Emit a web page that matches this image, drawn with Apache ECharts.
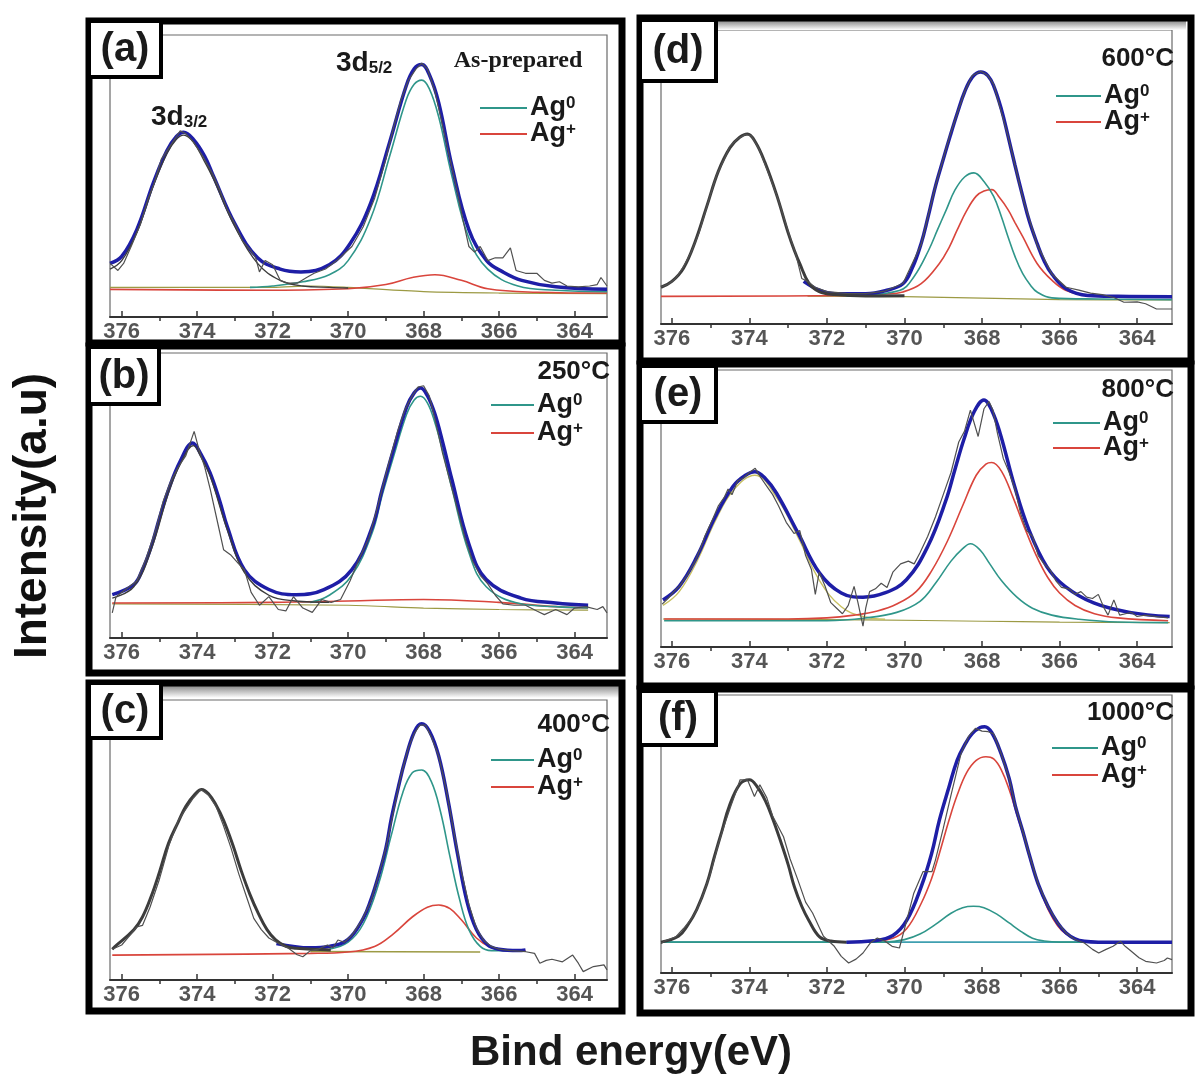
<!DOCTYPE html>
<html>
<head>
<meta charset="utf-8">
<script src="https://cdn.jsdelivr.net/npm/echarts@6/dist/echarts.min.js"></script>
<style>
html, body { margin: 0; padding: 0; background: #fff; }
#main { width: 1200px; height: 1087px; }
</style>
</head>
<body>
<div id="main"></div>
<script>
// tick labels of every energy axis
var majorTicks = [376, 374, 372, 370, 368, 366, 364];
var minorTicks = [375, 373, 371, 369, 367, 365];
var panelNames = ['(a)', '(b)', '(c)', '(d)', '(e)', '(f)'];
var panelTitles = ['As-prepared', '250°C', '400°C', '600°C', '800°C', '1000°C'];

// (a) as-prepared  [binding energy, intensity a.u.]
var rawA = [[376.31,19],[376.1,16.5],[375.95,19],[375.75,25],[375.5,33],[375.3,42],[375.15,47],[374.95,56],[374.7,61],[374.45,66],[374.3,65],[374.1,62],[373.85,57],[373.6,51],[373.4,45],[373.2,38],[373.0,33],[372.8,27],[372.6,24],[372.45,21],[372.35,16],[372.2,20],[372.0,18.5],[371.8,13],[371.6,12],[371.35,12],[371.1,14],[370.9,15.5],[370.6,17],[370.3,20],[370.1,22.5],[369.9,25],[369.6,32],[369.3,42],[369.0,56],[368.8,67],[368.6,77],[368.4,84],[368.2,88],[368.05,90],[367.9,88],[367.7,80],[367.5,68],[367.3,56],[367.1,44],[366.95,34],[366.8,25],[366.65,23],[366.5,25],[366.3,20],[366.1,21],[365.9,21],[365.7,24.5],[365.55,16.5],[365.3,15.5],[365.0,15.5],[364.8,13],[364.6,12],[364.4,12.5],[364.2,11],[363.9,10.7],[363.6,11],[363.4,11.5],[363.3,14],[363.14,11]];
var envA = [[376.31,19],[376.0,21.5],[375.6,31],[375.15,48],[374.8,59],[374.55,64],[374.36,65.5],[374.1,63],[373.8,57],[373.57,50],[373.0,33],[372.4,21],[371.8,17],[371.25,16],[370.5,18.5],[369.95,26],[369.4,40.5],[368.9,62],[368.46,82],[368.25,88],[368.05,89.5],[367.85,86],[367.6,76],[367.25,53.6],[366.8,31],[366.33,20],[365.9,16],[365.4,13],[364.5,10.7],[363.14,9.8]];
var d32A = [[376.31,17],[376.0,20],[375.6,30],[375.15,47],[374.8,58],[374.55,63],[374.36,64.5],[374.1,62],[373.8,55],[373.57,49],[373.0,32],[372.4,19],[371.8,13],[371.2,11],[370.5,10.5],[370.0,10.3]];
var ag0A = [[372.6,10.5],[372.0,11],[371.2,12.5],[370.5,15],[370.0,20],[369.4,35],[368.9,57],[368.46,77],[368.25,82.5],[368.05,84],[367.85,81],[367.6,71],[367.25,50],[366.8,28],[366.3,17],[365.5,11],[364.5,9.5],[363.14,9]];
var agpA = [[376.31,9.8],[372.0,9.5],[370.0,10],[369.0,11.5],[368.3,14],[367.7,15],[367.0,13],[366.3,10],[365.0,8.8],[363.14,8.5]];
var baseA = [[376.31,10.5],[372.0,10.5],[371.0,11],[370.0,10.5],[368.0,9],[366.0,8.5],[363.14,8.3]];

// (b) 250 C
var rawB = [[376.25,8.8],[376.15,14.5],[375.9,17],[375.6,20],[375.35,28],[375.1,38],[374.9,48],[374.7,55],[374.5,60],[374.3,64],[374.08,72.5],[373.95,66],[373.8,60],[373.65,52],[373.45,40],[373.3,31],[373.1,29],[372.9,26],[372.75,24],[372.57,16],[372.35,11.5],[372.1,14.5],[371.85,10],[371.65,9.5],[371.45,14.5],[371.2,10.5],[370.95,9],[370.7,13.5],[370.45,12.5],[370.2,13.5],[369.95,20],[369.7,28],[369.45,35],[369.2,47],[368.95,60],[368.7,72],[368.5,80],[368.3,85],[368.15,88],[368.0,88.5],[367.85,85],[367.7,77],[367.5,65],[367.3,55],[367.1,45],[366.9,35],[366.7,27],[366.5,22],[366.3,19],[366.1,15],[365.9,12],[365.6,11.5],[365.3,11.5],[365.0,9.5],[364.8,8.2],[364.5,10],[364.2,8.2],[364.0,10.5],[363.7,11],[363.4,10],[363.25,11],[363.14,8.8]];
var envB = [[376.25,15.2],[375.68,18.7],[375.45,24],[375.22,32],[375.0,42],[374.76,52],[374.45,62],[374.12,68.4],[373.9,64.5],[373.66,58],[373.4,48],[373.2,39],[372.75,24],[372.1,17],[371.38,15.2],[370.64,17],[369.9,24],[369.36,39],[369.1,52],[368.8,66],[368.45,81],[368.25,86],[368.08,87.7],[367.9,85],[367.71,79],[367.5,69],[367.25,55.6],[366.8,33],[366.34,20.5],[365.42,14],[364.5,12.3],[363.64,11.5]];
var d32B = [[376.25,14],[375.68,18],[375.22,31],[374.76,51],[374.45,61],[374.1,67.5],[373.9,63.5],[373.66,57],[373.2,38],[372.75,23],[372.1,15],[371.4,13],[370.5,12.5]];
var ag0B = [[371.0,12.5],[370.5,15],[369.9,22],[369.36,37],[369.1,50],[368.8,63.5],[368.45,78.5],[368.25,83.5],[368.08,84.8],[367.9,82.5],[367.71,76],[367.5,66],[367.25,52.5],[366.8,30],[366.34,18],[365.42,12],[364.5,11],[363.64,10.5]];
var agpB = [[376.25,12.3],[372.0,12.5],[370.0,13],[368.0,13.5],[366.0,12.5],[364.5,11],[363.64,10.5]];
var baseB = [[376.25,12],[370.0,11.5],[368.0,10.5],[366.0,10],[363.64,9.8]];

// (c) 400 C
var rawC = [[376.25,11],[376.0,12.5],[375.75,16.5],[375.6,19],[375.45,19.5],[375.25,26],[375.0,36],[374.75,48],[374.5,57],[374.3,61],[374.1,65],[373.9,68],[373.7,66],[373.5,62],[373.3,55],[373.1,47],[372.9,38],[372.7,30],[372.5,22],[372.3,18],[372.1,15],[371.9,13.5],[371.6,11.5],[371.35,9],[371.2,8.3],[371.0,10.5],[370.8,11],[370.55,12.5],[370.4,11.5],[370.27,14.3],[370.1,13.5],[369.9,16],[369.65,21],[369.4,28],[369.2,37],[369.0,47],[368.8,60],[368.6,73],[368.4,83],[368.25,88],[368.1,91],[367.95,91],[367.8,87],[367.6,80],[367.4,68],[367.2,53],[367.0,39],[366.8,27],[366.6,18.5],[366.4,14],[366.2,12],[366.0,11],[365.7,10.5],[365.29,10.1],[365.06,9.5],[364.92,6],[364.75,7],[364.6,7.4],[364.32,6.5],[364.05,8.9],[363.9,6],[363.77,3],[363.5,4.8],[363.22,5.4],[363.14,3.6]];
var d32C = [[376.25,11],[376.18,11.9],[375.68,17.9],[375.45,22.5],[375.22,29.8],[375.0,38.5],[374.76,48.8],[374.5,56.5],[374.3,62],[374.05,66.5],[373.88,68],[373.7,66.5],[373.5,62.5],[373.3,57],[373.05,48],[372.84,39.3],[372.6,30.5],[372.38,23.8],[372.15,18],[371.92,14.3],[371.65,12],[371.38,11.3],[370.46,10.7]];
var envC = [[371.9,13],[371.0,11.5],[370.5,12],[370.0,14.5],[369.6,22],[369.4,28.5],[369.2,37],[369.0,47],[368.85,58],[368.65,70],[368.5,78],[368.25,88.5],[368.05,91.5],[367.85,89],[367.6,80],[367.35,64],[367.1,45],[366.85,28],[366.6,18],[366.3,12.5],[366.0,11],[365.5,10.5],[365.3,10.7]];
var ag0C = [[370.5,11],[370.0,13.5],[369.6,20],[369.2,34],[368.85,52],[368.55,67],[368.3,74],[368.05,75],[367.8,71],[367.55,60],[367.3,44],[367.05,29],[366.8,18],[366.5,12],[366.2,10.5],[365.5,10.5]];
var agpC = [[376.25,8.9],[371.0,9.5],[370.0,10],[369.3,12],[368.8,16.5],[368.3,22.5],[367.9,26],[367.6,26.8],[367.3,25.5],[367.0,21.5],[366.6,15],[366.2,11.5],[365.8,10.5],[365.3,10.5]];
var baseC = [[371.0,10.2],[366.5,10]];

// (d) 600 C
var rawD = [[376.28,12.6],[376.1,13.5],[375.9,15.5],[375.7,19.5],[375.5,24.5],[375.3,31],[375.05,42],[374.85,50.5],[374.65,56],[374.5,60.5],[374.3,63],[374.1,64.5],[373.95,64],[373.75,59.5],[373.5,51],[373.25,42],[373.0,31.5],[372.8,23.5],[372.65,15.5],[372.5,14.5],[372.3,12.5],[372.0,11],[371.5,10.4],[371.0,10.3],[370.5,11.2],[370.04,13.8],[369.57,27],[369.2,47],[368.82,64.5],[368.45,79],[368.25,84.5],[368.03,86],[367.85,84.5],[367.7,81.5],[367.33,64],[366.95,43],[366.58,27],[366.2,17],[365.83,12.5],[365.5,11.5],[365.2,10.5],[364.9,10],[364.6,9],[364.34,7.4],[364.0,7.5],[363.78,6.9],[363.5,5.1],[363.1,5.1]];
var d32D = [[376.28,12.5],[376.0,14.5],[375.7,19],[375.4,28],[375.1,40],[374.8,52],[374.5,60],[374.25,63.5],[374.05,64.6],[373.85,62],[373.6,55],[373.3,44],[373.0,31],[372.84,25],[372.7,20.5],[372.47,14],[372.2,11],[371.8,10],[371.0,9.5],[370.0,9.6]];
var envD = [[372.6,14.5],[372.2,11.5],[371.8,10.3],[371.0,10.3],[370.5,11.3],[370.04,13.7],[369.8,19],[369.57,27.4],[369.4,36],[369.2,46.9],[369.0,56],[368.82,64],[368.63,72],[368.45,78.9],[368.25,84],[368.03,85.7],[367.85,84.5],[367.7,81],[367.5,73],[367.33,64],[367.15,54],[366.95,43.4],[366.78,35],[366.58,27.4],[366.4,21.5],[366.2,17],[365.83,12],[365.27,9.7],[364.5,9.4],[363.1,9.3]];
var ag0D = [[371.5,9.5],[370.13,11.4],[369.76,16],[369.38,25],[369.15,32],[368.92,38.9],[368.7,45.5],[368.45,50],[368.21,51.4],[367.95,48.5],[367.7,43.4],[367.5,36.5],[367.33,29.7],[367.15,23],[366.95,17.1],[366.75,13.2],[366.58,10.9],[366.2,8.9],[365.0,8.5],[363.1,8.3]];
var agpD = [[376.28,9.4],[371.5,9.7],[370.5,10.2],[370.04,10.9],[369.57,13.7],[369.1,20.6],[368.85,26],[368.64,32],[368.4,38.5],[368.15,43.5],[367.95,45.2],[367.75,45.7],[367.55,43],[367.33,38.9],[367.15,34.5],[366.95,29.7],[366.58,20.6],[366.2,14.9],[365.83,11.4],[365.27,9.7],[364.5,9.4],[363.1,9.3]];
var baseD = [[372.5,9.5],[370.0,9.3],[368.0,8.8],[366.0,8.3],[363.1,8.2]];

// (e) 800 C
var rawE = [[376.25,15.5],[376.1,17.5],[375.95,20],[375.8,22],[375.6,26],[375.4,31],[375.25,36],[375.15,40],[374.95,46],[374.8,51],[374.65,54],[374.55,57],[374.45,55],[374.3,60],[374.15,61],[374.0,63],[373.85,64.5],[373.7,61],[373.55,58],[373.4,55],[373.25,51],[373.05,45],[372.85,41],[372.7,42],[372.55,33],[372.4,28],[372.3,19],[372.2,27],[372.05,22],[371.9,16],[371.75,14],[371.6,12],[371.45,15],[371.3,21.9],[371.2,16],[371.07,7.5],[371.0,14],[370.9,20],[370.75,21],[370.6,23],[370.45,21.5],[370.3,27],[370.1,30],[369.9,31],[369.75,30],[369.6,34],[369.4,40],[369.2,47],[369.0,55],[368.8,63],[368.6,74],[368.45,78],[368.3,85.5],[368.1,76],[367.95,86],[367.82,88.6],[367.72,85.6],[367.6,77],[367.45,68],[367.3,63],[367.15,57],[367.0,48],[366.85,42],[366.7,40],[366.55,33],[366.4,30],[366.25,28],[366.1,24],[365.95,21.5],[365.75,21],[365.6,19],[365.45,20],[365.3,18],[365.15,17.5],[365.0,19],[364.85,14],[364.75,11.5],[364.6,17],[364.45,11.5],[364.3,12],[364.15,12.5],[364.0,11],[363.8,11.5],[363.5,11],[363.2,10.5]];
var envE = [[376.23,17],[375.81,21.9],[375.35,32.7],[374.88,47],[374.42,58],[374.1,62],[373.86,63.3],[373.6,61],[373.3,55.5],[372.74,41],[372.19,26.7],[371.63,19.5],[371.07,18],[370.51,19.5],[369.95,24.3],[369.4,36.3],[368.93,53],[368.7,64],[368.47,74.8],[368.2,85],[367.95,89.2],[367.75,85.5],[367.53,77],[367.16,58],[366.79,42.3],[366.33,29],[365.86,21.9],[365.12,15.9],[364.19,12.5],[363.16,11]];
var d32E = [[376.23,15],[375.81,20],[375.35,31],[374.88,45.5],[374.42,56.5],[373.86,62],[373.3,54],[372.74,39.5],[372.19,24],[371.63,14.5],[371.07,11],[370.5,10]];
var ag0E = [[376.2,9.5],[372.0,9.5],[371.0,10.5],[370.2,12.5],[369.6,16.5],[369.2,23],[368.8,31],[368.5,35.5],[368.3,37.3],[368.05,35],[367.8,30],[367.5,24],[367.1,18],[366.7,14],[366.2,11.5],[365.5,10],[364.5,9],[363.2,8.8]];
var agpE = [[376.2,10.1],[373.0,10.1],[372.0,10.5],[371.3,11.5],[370.7,13],[370.2,15.5],[369.7,20],[369.3,27.5],[368.9,38],[368.5,51],[368.15,62],[367.9,66],[367.75,66.6],[367.5,63.5],[367.2,54],[366.9,43],[366.6,33],[366.3,25],[366.0,19.5],[365.6,15],[365.1,12],[364.5,10.5],[363.2,9.5]];
var baseE = [[376.23,10.1],[371.0,9.8],[368.0,9.3],[366.0,9],[363.16,8.8]];

// (f) 1000 C
var rawF = [[376.28,10.5],[376.2,11.4],[375.9,13],[375.7,16],[375.5,19.5],[375.36,22.5],[375.18,28.7],[375.0,36],[374.8,46.5],[374.65,53],[374.48,60],[374.35,65],[374.24,69.5],[374.05,69.5],[373.87,63.5],[373.73,67.7],[373.55,63],[373.4,56.5],[373.12,49],[372.95,41],[372.75,33.5],[372.55,25.5],[372.37,21.6],[372.2,16.5],[372.09,13.2],[371.81,9.6],[371.63,6],[371.44,3.6],[371.25,5],[371.07,7.2],[370.88,10.8],[370.7,12.6],[370.5,11.4],[370.32,9.6],[370.13,9],[369.94,19],[369.76,28.7],[369.52,36.5],[369.29,36.5],[369.2,40.7],[369.0,52],[368.8,64],[368.54,79],[368.35,85],[368.17,88],[368.0,87],[367.84,86.8],[367.7,86],[367.51,79],[367.3,70],[367.14,60],[366.95,51],[366.77,42],[366.55,32],[366.3,24],[366.05,18],[365.83,14.4],[365.6,12],[365.36,10.8],[365.15,8.5],[364.99,7.2],[364.8,8.5],[364.62,9.6],[364.43,11.4],[364.3,9.5],[364.15,7.8],[363.95,5.5],[363.78,4.2],[363.5,3.6],[363.3,4.5],[363.22,5.4],[363.1,4.8]];
var d32F = [[376.28,11.1],[375.83,13.2],[375.6,17],[375.36,22.8],[375.1,32],[374.9,42],[374.7,51.5],[374.52,60],[374.24,68],[374.0,69.5],[373.8,67],[373.59,62],[373.4,55.5],[373.21,48],[373.0,39],[372.84,31],[372.65,24],[372.47,19],[372.19,13],[371.9,11.5],[371.5,11.1]];
var envF = [[371.5,11.1],[370.8,11.6],[370.3,13.5],[369.94,19],[369.57,31],[369.3,43],[369.1,55],[368.85,67],[368.64,76.6],[368.45,82],[368.26,86],[368.05,88.3],[367.93,88.6],[367.75,86.5],[367.51,79],[367.3,70],[367.14,60],[366.95,51],[366.77,42],[366.55,32],[366.3,24],[366.05,18],[365.83,14.4],[365.6,12.3],[365.36,11.4],[365.0,11.1],[363.1,11.1]];
var ag0F = [[376.28,11.1],[370.5,11.1],[370.0,12],[369.6,14],[369.2,17.5],[368.8,21.5],[368.5,23.5],[368.22,24],[367.95,23.5],[367.6,21],[367.3,18],[367.0,15],[366.7,12.5],[366.4,11.5],[366.0,11.1],[363.1,11.1]];
var agpF = [[371.0,11.1],[370.3,12.5],[369.94,16],[369.57,25],[369.3,34],[369.1,43],[368.85,55],[368.64,64],[368.4,72],[368.15,76.5],[367.9,77.8],[367.7,77],[367.5,73],[367.3,66],[367.1,57],[366.9,48],[366.7,38],[366.5,30],[366.3,23],[366.05,17],[365.83,14],[365.5,11.8],[365.0,11.1]];
var baseF = [[376.28,11.1],[363.1,11.1]];

var FONT = '"Liberation Sans", Arial, sans-serif';
var BLUE = '#1e1ea6', TEAL = '#2f968a', RED = '#d9453c', GREY = '#505050', DARK = '#3c3c3c', OLIVE = '#9c9a44', CYAN = '#3f9fb0';

// plot boxes in page pixels
var grids = [
  { left: 110, top: 35, width: 497, height: 282, min: 363.14, max: 376.31 },
  { left: 110, top: 353, width: 497, height: 285, min: 363.14, max: 376.31 },
  { left: 110, top: 700, width: 497, height: 280, min: 363.14, max: 376.31 },
  { left: 661, top: 30, width: 511, height: 294, min: 363.1, max: 376.28 },
  { left: 661, top: 370, width: 511, height: 277, min: 363.1, max: 376.28 },
  { left: 661, top: 695, width: 511, height: 278, min: 363.1, max: 376.28 }
];

// [data, colour, width, smooth]
var curves = [
  [[baseA, OLIVE, 1.2, 0.3], [agpA, RED, 1.6, 0.4], [ag0A, TEAL, 1.6, 0.4], [envA, BLUE, 3.5, 0.4], [d32A, DARK, 1.4, 0.4], [rawA, GREY, 1.2, 0]],
  [[baseB, OLIVE, 1.2, 0.3], [agpB, RED, 1.6, 0.4], [ag0B, TEAL, 1.6, 0.4], [envB, BLUE, 3.5, 0.4], [d32B, DARK, 1.4, 0.4], [rawB, GREY, 1.2, 0]],
  [[baseC, OLIVE, 1.4, 0], [agpC, RED, 1.6, 0.4], [ag0C, TEAL, 1.6, 0.4], [envC, BLUE, 3.5, 0.4], [d32C, DARK, 3, 0.4], [rawC, GREY, 1.2, 0]],
  [[baseD, OLIVE, 1.2, 0.3], [agpD, RED, 1.6, 0.4], [ag0D, TEAL, 1.6, 0.4], [envD, BLUE, 3.5, 0.4], [d32D, DARK, 3, 0.4], [rawD, GREY, 1.2, 0]],
  [[baseE, OLIVE, 1.2, 0.3], [d32E, '#c8c060', 1.4, 0.4], [agpE, RED, 1.6, 0.4], [ag0E, TEAL, 1.6, 0.4], [envE, BLUE, 3.5, 0.4], [rawE, GREY, 1.2, 0]],
  [[baseF, CYAN, 1.6, 0], [agpF, RED, 1.6, 0.4], [ag0F, TEAL, 1.6, 0.4], [envF, BLUE, 3.5, 0.4], [d32F, DARK, 3, 0.4], [rawF, GREY, 1.2, 0]]
];

var option = { animation: false, grid: [], xAxis: [], yAxis: [], series: [], graphic: { elements: [] } };

grids.forEach(function (g, i) {
  option.grid.push({ left: g.left, top: g.top, width: g.width, height: g.height, show: true, borderColor: '#6a6a6a', borderWidth: 1.2, backgroundColor: 'transparent' });
  option.xAxis.push({
    type: 'value', gridIndex: i, min: g.min, max: g.max, inverse: true,
    axisLine: { show: true, onZero: false, lineStyle: { color: '#333', width: 2 } },
    axisTick: { show: true, inside: true, length: 6, customValues: majorTicks, lineStyle: { color: '#333', width: 1.5 } },
    axisLabel: { customValues: majorTicks, color: '#555', fontSize: 22, fontWeight: 'bold', fontFamily: FONT, margin: 4 },
    splitLine: { show: false }
  });
  // odd-numbered minor ticks
  option.xAxis.push({
    type: 'value', gridIndex: i, min: g.min, max: g.max, inverse: true,
    axisLine: { show: false },
    axisTick: { show: true, inside: true, length: 4, customValues: minorTicks, lineStyle: { color: '#333', width: 1.5 } },
    axisLabel: { show: false },
    splitLine: { show: false }
  });
  option.yAxis.push({ type: 'value', gridIndex: i, min: 0, max: 100, show: false });
  curves[i].forEach(function (c, k) {
    option.series.push({
      type: 'line', xAxisIndex: i * 2, yAxisIndex: i, data: c[0],
      symbol: 'none', smooth: c[3], silent: true, z: 2 + k,
      lineStyle: { color: c[1], width: c[2] }
    });
  });
});

var G = option.graphic.elements;

function rect(x, y, w, h, lw, fill) {
  G.push({ type: 'rect', z: 100, silent: true, shape: { x: x, y: y, width: w, height: h },
    style: { fill: fill || 'none', stroke: '#000', lineWidth: lw } });
}
function text(x, y, str, size, align, family, weight) {
  G.push({ type: 'text', z: 101, silent: true, x: x, y: y,
    style: { text: str, fontSize: size, fontFamily: family || FONT, fontWeight: weight || 'bold', fill: '#1a1a1a', align: align || 'left', verticalAlign: 'middle' } });
}
function richText(x, y, main, sub, up, size) {
  G.push({ type: 'text', z: 101, silent: true, x: x, y: y,
    style: {
      text: '{m|' + main + '}{s|' + sub + '}', align: 'left', verticalAlign: 'middle',
      rich: {
        m: { fontSize: size, fontWeight: 'bold', fontFamily: FONT, fill: '#1a1a1a' },
        s: { fontSize: Math.round(size * 0.62), fontWeight: 'bold', fontFamily: FONT, fill: '#1a1a1a', verticalAlign: up ? 'top' : 'bottom' }
      }
    } });
}
function line(x1, x2, y, color) {
  G.push({ type: 'line', z: 101, silent: true, shape: { x1: x1, y1: y, x2: x2, y2: y }, style: { stroke: color, lineWidth: 1.8 } });
}

// grey shading under the top edges of (c) and (d)
G.push({ type: 'rect', z: 99, silent: true, shape: { x: 160, y: 686, width: 460, height: 12 },
  style: { fill: new echarts.graphic.LinearGradient(0, 0, 0, 1, [{ offset: 0, color: '#8c8c8c' }, { offset: 1, color: '#ffffff' }]) } });
G.push({ type: 'rect', z: 99, silent: true, shape: { x: 716, y: 21, width: 470, height: 9 },
  style: { fill: new echarts.graphic.LinearGradient(0, 0, 0, 1, [{ offset: 0, color: '#8c8c8c' }, { offset: 1, color: '#ffffff' }]) } });

// outer panel frames
rect(89, 21, 533, 322, 7);
rect(89, 346, 533, 327, 7);
rect(89, 683, 533, 328, 7);
rect(640, 18, 551, 343, 7);
rect(640, 364, 551, 322, 7);
rect(640, 689, 551, 324, 7);

// letter boxes
var boxes = [[89, 21, 72, 56], [89, 347, 70, 57], [89, 683, 72, 55], [640, 20, 76, 61], [640, 366, 76, 56], [640, 691, 76, 54]];
boxes.forEach(function (b, i) {
  rect(b[0], b[1], b[2], b[3], 4, '#fff');
  text(b[0] + b[2] / 2, b[1] + b[3] / 2 + 1, panelNames[i], 40, 'center');
});

// panel titles
text(518, 61, panelTitles[0], 24, 'center', '"Liberation Serif", "Times New Roman", serif');
text(610, 372, panelTitles[1], 26, 'right');
text(610, 725, panelTitles[2], 26, 'right');
text(1174, 59, panelTitles[3], 26, 'right');
text(1174, 390, panelTitles[4], 26, 'right');
text(1174, 713, panelTitles[5], 26, 'right');

// peak names in (a)
richText(151, 117, '3d', '3/2', false, 28);
richText(336, 63, '3d', '5/2', false, 28);

// legends
var legends = [[480, 527, 108, 134], [491, 534, 405, 433], [491, 534, 760, 787], [1056, 1101, 96, 122], [1053, 1100, 423, 448], [1052, 1098, 748, 775]];
legends.forEach(function (l) {
  line(l[0], l[1], l[2], TEAL);
  line(l[0], l[1], l[3], RED);
  richText(l[1] + 3, l[2], 'Ag', '0', true, 27);
  richText(l[1] + 3, l[3], 'Ag', '+', true, 27);
});

// axis titles
G.push({ type: 'text', z: 101, silent: true, x: 33, y: 516, rotation: Math.PI / 2,
  style: { text: 'Intensity(a.u)', fontSize: 46, fontWeight: 'bold', fontFamily: FONT, fill: '#111', align: 'center', verticalAlign: 'middle' } });
text(631, 1053, 'Bind energy(eV)', 42, 'center');

var chart = echarts.init(document.getElementById('main'));
chart.setOption(option);
</script>
</body>
</html>
